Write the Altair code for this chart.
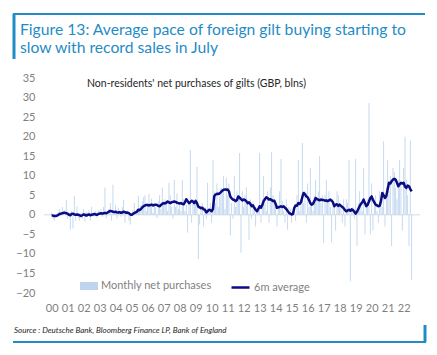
import altair as alt
import pandas as pd

start_year = 2000
years = list(range(2000, 2023))

# Monthly net purchases (GBP bn), Jan 2000 - Jul 2022, one row per year
monthly_net = [
    0.5, -1.0, -1.5, 0.2, -0.5, 0.8, 1.5, -0.3, 2.0, 0.9, 1.2, 3.8,        # 2000
    -1.0, 0.5, -3.8, 1.0, -3.5, 4.9, -1.5, 2.2, -0.8, -1.5, 0.5, -1.0,     # 2001
    1.5, -1.8, 0.8, -0.6, 1.2, -1.5, 2.0, -0.5, 0.5, 1.0, -0.8, 1.2,       # 2002
    0.8, 1.5, -0.5, 2.0, 7.0, -0.8, 1.0, 1.5, 3.0, -1.5, 7.7, 0.5,         # 2003
    2.5, -1.0, 1.8, 0.5, -0.5, 2.0, 3.8, -2.0, 1.0, 0.2, -1.5, -2.5,       # 2004
    0.5, 1.2, 3.0, 0.8, 1.5, 4.8, 1.0, 2.5, 3.5, 4.5, 5.0, 1.0,            # 2005
    3.0, 5.4, 2.8, 4.2, 0.5, 3.0, 2.0, -0.8, 3.5, 5.0, 1.5, 7.0,           # 2006
    2.5, 4.0, 3.0, 1.0, 8.2, 5.0, 2.0, -1.0, 9.0, 2.0, 5.5, 1.5,           # 2007
    3.0, 1.0, 9.0, 4.0, 1.0, 2.5, -4.6, 3.5, 16.6, -2.0, 4.0, 2.5,         # 2008
    3.5, 12.3, -11.3, -2.5, 1.5, 3.0, -3.0, 2.0, -1.0, 8.2, 1.0, 3.0,      # 2009
    -2.0, 14.0, 6.0, 3.0, 8.0, 2.0, 4.5, 7.0, 5.5, 10.0, 1.5, 9.5,         # 2010
    5.0, 8.0, -5.2, 3.0, -1.0, 10.0, 2.0, 6.0, 4.0, 15.8, -9.7, 6.0,       # 2011
    2.0, 5.0, 7.0, 3.0, -6.4, 4.0, -1.0, 3.5, 2.0, -3.0, 1.5, 2.0,         # 2012
    15.8, -2.0, 4.0, 10.0, 3.0, 1.0, 6.0, -2.0, 7.0, 16.0, 5.0, 4.0,       # 2013
    2.0, -3.0, 2.5, 6.0, 14.3, 3.5, 1.0, -2.0, 4.0, -3.8, 2.0, 1.5,        # 2014
    -2.0, 1.0, 2.0, -1.5, 5.0, 14.0, 1.0, 4.0, 18.4, 3.0, 6.0, -2.0,       # 2015
    8.0, 2.0, 12.0, 3.0, 1.0, 5.0, 9.0, 4.0, 6.0, 15.0, 3.0, 5.0,          # 2016
    -7.2, 5.0, 9.0, 3.0, 6.0, 2.0, -7.0, 4.0, 2.0, -4.0, 6.0, 5.0,         # 2017
    3.0, 2.0, -2.0, 4.0, -3.0, 4.0, 3.0, 14.0, -17.0, 1.0, 2.0, -1.0,      # 2018
    14.3, -8.0, 3.0, 6.0, 2.0, 1.0, 12.0, -5.0, 3.0, 4.0, 28.6, -5.0,      # 2019
    8.0, -4.0, 3.0, 5.0, 1.0, -2.0, 6.0, 4.0, 2.0, 18.8, -3.0, 7.0,        # 2020
    14.0, 6.0, 10.0, -8.0, 12.0, 11.0, 7.0, 4.0, 9.0, 14.0, 8.0, -4.0,     # 2021
    12.0, 20.0, 9.0, 5.0, -8.0, 19.0, -16.6,                               # 2022
]

# 6-month average
avg_6m = [
    -0.2, -0.2, -0.3, -0.3, -0.2, 0.0, 0.2, 0.3, 0.4, 0.5, 0.5, 0.4,       # 2000
    0.3, 0.0, -0.1, 0.2, 0.3, 0.1, 0.0, 0.1, 0.0, -0.1, -0.3, -0.1,        # 2001
    0.1, 0.0, -0.2, 0.0, 0.1, -0.1, 0.0, 0.1, 0.2, 0.1, 0.0, 0.2,          # 2002
    0.3, 0.4, 0.3, 0.4, 0.5, 0.4, 0.6, 0.8, 1.0, 0.9, 0.8, 0.7,            # 2003
    0.8, 0.6, 0.6, 0.7, 0.5, 0.6, 0.8, 0.7, 0.5, 0.6, 0.4, 0.1,            # 2004
    0.0, 0.2, 0.5, 0.6, 0.8, 1.3, 1.2, 1.5, 1.9, 2.2, 2.4, 2.5,            # 2005
    2.5, 2.4, 2.5, 2.6, 2.4, 2.5, 2.6, 2.5, 2.3, 2.2, 2.5, 2.8,            # 2006
    3.0, 2.9, 3.1, 3.4, 3.2, 3.0, 3.2, 3.3, 3.4, 3.3, 3.1, 3.0,            # 2007
    2.9, 3.0, 2.8, 2.7, 3.2, 4.0, 3.5, 3.0, 3.2, 3.6, 3.4, 3.0,            # 2008
    3.6, 3.0, 2.1, 1.9, 1.7, 1.8, 1.4, 1.3, 0.6, 0.9, 1.3, 1.2,            # 2009
    0.9, 1.5, 4.8, 5.2, 5.4, 5.3, 5.5, 5.8, 6.2, 6.4, 6.5, 6.4,            # 2010
    6.5, 6.0, 4.7, 4.2, 3.9, 3.8, 3.5, 3.8, 4.7, 4.4, 4.0, 3.7,            # 2011
    3.9, 3.8, 3.5, 3.0, 3.2, 2.8, 2.2, 2.4, 1.8, 1.3, 0.9, 1.5,            # 2012
    2.2, 1.8, 2.5, 3.5, 4.0, 4.5, 4.3, 3.9, 4.0, 3.8, 3.5, 3.6,            # 2013
    2.8, 1.8, 1.9, 2.0, 2.2, 2.0, 2.2, 1.8, 1.5, 1.0, 0.5, 0.3,            # 2014
    0.1, 0.2, 1.8, 2.4, 2.3, 3.0, 2.8, 3.2, 4.5, 5.6, 5.3, 4.7,            # 2015
    4.5, 3.8, 3.0, 2.6, 2.8, 3.5, 4.3, 4.0, 3.9, 3.7, 3.9, 3.8,            # 2016
    3.8, 3.6, 3.7, 3.5, 3.7, 3.9, 3.6, 3.2, 2.2, 2.6, 2.7, 2.3,            # 2017
    2.6, 2.3, 2.0, 1.7, 1.2, 0.9, 1.1, 1.3, 1.0, 1.4, 1.2, 0.8,            # 2018
    0.3, 0.8, 1.5, 2.2, 2.8, 3.2, 3.9, 3.0, 2.2, 2.6, 3.4, 4.3,            # 2019
    4.7, 3.8, 3.2, 2.6, 2.4, 2.2, 2.3, 3.5, 5.6, 5.0, 4.3, 4.8,            # 2020
    6.5, 8.2, 8.0, 8.6, 9.0, 9.2, 9.0, 8.2, 7.3, 7.8, 8.2, 8.0,            # 2021
    8.2, 7.2, 6.9, 7.5, 7.3, 6.6, 6.0,                                     # 2022
]

y_ticks = list(range(-20, 40, 5))

BLUE = "#1f8cc6"
NAVY = "#0b0b82"
BAR = "#bfd5ef"
GRAY = "#7f7f7f"
FONT = "Lato"

t = [start_year + i / 12 for i in range(len(monthly_net))]
df = pd.DataFrame({
    "t": t,
    "net": monthly_net,
    "avg": avg_6m,
    "s1": ["Monthly net purchases"] * len(t),
    "s2": ["6m average"] * len(t),
})

x_scale = alt.Scale(domain=[1999.836, 2022.71], nice=False, zero=False)
y_scale = alt.Scale(domain=[-20, 35], nice=False)

x_axis = alt.Axis(values=years, labelExpr="slice(format(datum.value, 'd'), 2)",
                  domain=False, ticks=False, grid=False, labelPadding=9,
                  labelColor=GRAY, labelFontSize=11, labelFont=FONT,
                  labelOverlap=False, labelBound=False, labelFlush=False, title=None)
y_axis = alt.Axis(values=y_ticks, domain=False, ticks=False, grid=False,
                  labelPadding=9, labelColor=GRAY, labelFontSize=11,
                  labelFont=FONT, labelOverlap=False, labelBound=False,
                  labelFlush=False, title=None)

base = alt.Chart(df)

bars = base.mark_bar(size=0.9).encode(
    x=alt.X("t:Q", scale=x_scale, axis=x_axis),
    y=alt.Y("net:Q", scale=y_scale, axis=y_axis),
    fill=alt.Fill("s1:N", scale=alt.Scale(domain=["Monthly net purchases"], range=[BAR]),
                  legend=alt.Legend(title=None, orient="none", legendX=36, legendY=199,
                                    symbolType="M-1,-0.45H1V0.45H-1Z", symbolSize=324,
                                    symbolStrokeWidth=0, labelOffset=3, padding=0,
                                    labelFontSize=11, labelColor=GRAY, labelFont=FONT)),
)

zero = alt.Chart(alt.Data(values=[{}])).mark_rule(color="#d9d9d9", strokeWidth=1).encode(
    y=alt.datum(0, scale=y_scale, axis=y_axis)
)

line = base.mark_line(strokeWidth=2.5, strokeJoin="round").encode(
    x=alt.X("t:Q", scale=x_scale, axis=x_axis),
    y=alt.Y("avg:Q", scale=y_scale, axis=y_axis),
    stroke=alt.Stroke("s2:N", scale=alt.Scale(domain=["6m average"], range=[NAVY]),
                      legend=alt.Legend(title=None, orient="none", legendX=186, legendY=199,
                                        symbolType="stroke", symbolSize=324,
                                        symbolStrokeWidth=2.5, labelOffset=3, padding=0,
                                        labelFontSize=11, labelColor=GRAY, labelFont=FONT)),
)

one = alt.Data(values=[{}])

def txt(text, x, y, size, color, style="normal", weight="normal"):
    return alt.Chart(one).mark_text(align="left", baseline="alphabetic", font=FONT,
                                    fontSize=size, color=color, fontStyle=style,
                                    fontWeight=weight).encode(
        x=alt.value(x), y=alt.value(y), text=alt.value(text))

def hrule(x1, x2, y, w):
    return alt.Chart(one).mark_rule(color=BLUE, strokeWidth=w).encode(
        x=alt.value(x1), x2=alt.value(x2), y=alt.value(y))

def vrule(x, y1, y2, w):
    return alt.Chart(one).mark_rule(color=BLUE, strokeWidth=w).encode(
        x=alt.value(x), y=alt.value(y1), y2=alt.value(y2))

decor = [
    hrule(-31, 381, -64, 2),
    vrule(-30, -64, -19, 3),
    hrule(-31, 382, 264, 2),
    vrule(381, 247, 264, 3),
    txt("Figure 13: Average pace of foreign gilt buying starting to", -24, -43, 15.7, BLUE),
    txt("slow with record sales in July", -24, -25, 15.7, BLUE),
    txt("Non-residents' net purchases of gilts (GBP, blns)", 43, 9, 10.5, "#262626"),
    txt("Source : Deutsche Bank, Bloomberg Finance LP, Bank of England", -30, 255, 8, "#262626",
        style="italic"),
]

chart = alt.layer(zero, bars, line, *decor).properties(
    width=376, height=215,
    padding={"left": 44, "top": 78, "right": 17, "bottom": 62},
    autosize=alt.AutoSizeParams(type="none"),
    background="white",
).configure_view(stroke=None)

chart.save("out.html", embed_options={"renderer": "svg", "actions": False})
